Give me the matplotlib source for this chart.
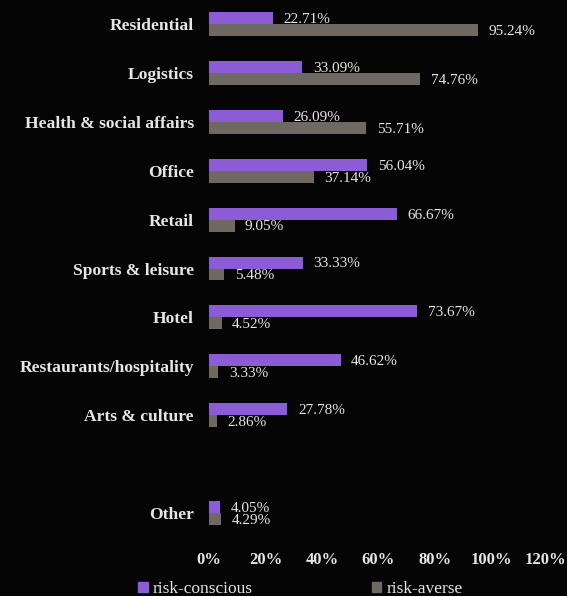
"""Grouped horizontal bars: risk-conscious vs risk-averse share by property type."""

import matplotlib

matplotlib.use("Agg")
import matplotlib.pyplot as plt
import matplotlib.transforms as mtransforms
import numpy as np
from matplotlib.patches import Patch

_BG = "#050505"
_PURPLE = "#8C5BD6"
_GRAY = "#6E6963"
_TEXT = "#E6E6E6"

categories = [
    "Residential",
    "Logistics",
    "Health & social affairs",
    "Office",
    "Retail",
    "Sports & leisure",
    "Hotel",
    "Restaurants/hospitality",
    "Arts & culture",
    "",
    "Other",
]
risk_conscious = [22.71, 33.09, 26.09, 56.04, 66.67, 33.33, 73.67, 46.62, 27.78, None, 4.05]
risk_averse = [95.24, 74.76, 55.71, 37.14, 9.05, 5.48, 4.52, 3.33, 2.86, None, 4.29]
xticks = [0, 20, 40, 60, 80, 100, 120]

plt.rcParams["font.family"] = ["Liberation Serif", "DejaVu Serif"]

fig = plt.figure(figsize=(5.67, 5.96), dpi=100, facecolor=_BG)
ax = fig.add_axes([209 / 567, 1 - 540 / 596, (548 - 209) / 567, 540 / 596])
ax.set_facecolor(_BG)

y = np.arange(len(categories))
h = 0.245
keep = [i for i, v in enumerate(risk_conscious) if v is not None]
rc = np.array([risk_conscious[i] for i in keep])
ra = np.array([risk_averse[i] for i in keep])
yk = y[keep]

bars_c = ax.barh(yk - h / 2, rc, height=h, color=_PURPLE, label="risk-conscious")
bars_a = ax.barh(yk + h / 2, ra, height=h, color=_GRAY, label="risk-averse")

for bars, vals in ((bars_c, rc), (bars_a, ra)):
    for bar, v in zip(bars, vals):
        ax.annotate(f"{v:.2f}%", (v, bar.get_y() + bar.get_height() / 2),
                    xytext=(7.5, -1), textcoords="offset points",
                    va="center", ha="left", color=_TEXT, fontsize=11)

ax.set_xlim(0, 120)
ax.set_ylim(10.552, -0.491)
ax.set_xticks(xticks)
ax.set_xticklabels([f"{t}%" for t in xticks], fontsize=12, fontweight="bold", color=_TEXT)
ax.set_yticks(y)
ax.set_yticklabels(categories, fontsize=12.6, fontweight="bold", color=_TEXT)
ax.tick_params(axis="both", length=0)
ax.tick_params(axis="x", pad=9)
ax.tick_params(axis="y", pad=11)
for s in ax.spines.values():
    s.set_visible(False)

# last tick label sits at the right edge; nudge it in so it is not cut
last = ax.get_xticklabels()[-1]
last.set_transform(last.get_transform() + mtransforms.ScaledTranslation(-2 / 72, 0, fig.dpi_scale_trans))

handles = [Patch(color=_PURPLE), Patch(color=_GRAY)]
fig.legend(handles, ["risk-conscious", "risk-averse"], loc="center left",
           bbox_to_anchor=(138 / 567, 1 - 589 / 596), ncol=2, frameon=False,
           fontsize=12.5, labelcolor=_TEXT, handlelength=0.55, handleheight=0.55,
           handletextpad=0.3, columnspacing=6.85, borderpad=0, borderaxespad=0)

fig.savefig("out.png", dpi=100, facecolor=_BG)
